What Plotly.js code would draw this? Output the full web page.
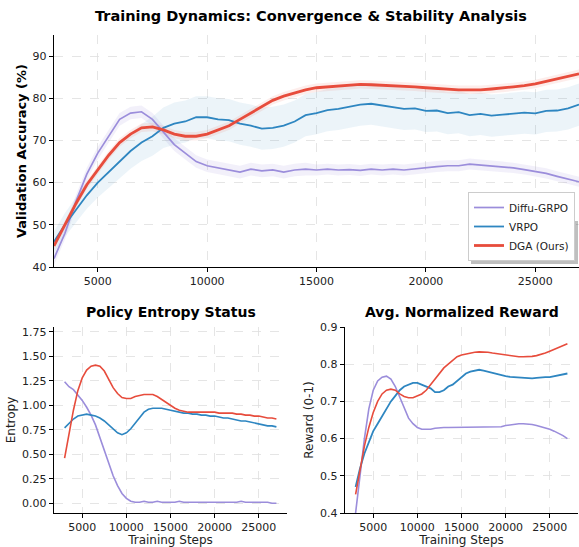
<!DOCTYPE html>
<html>
<head>
<meta charset="utf-8">
<script src="https://cdn.plot.ly/plotly-3.0.1.min.js"></script>
<style>html,body{margin:0;padding:0;background:#fff}#chart{width:579px;height:547px}</style>
</head>
<body>
<div id="chart"></div>
<script>
// ---- data ----
const steps = [3000,3500,4000,4500,5000,5500,6000,6500,7000,7500,8000,8500,9000,9500,10000,10500,11000,11500,12000,12500,13000,13500,14000,14500,15000,15500,16000,16500,17000,17500,18000,18500,19000,19500,20000,20500,21000,21500,22000,22500,23000,23500,24000,24500,25000,25500,26000,26500,27000];
const seriesNames = ["Diffu-GRPO","VRPO","DGA (Ours)"];
const xTicks = [5000,10000,15000,20000,25000];

// Validation accuracy (%)
const accDiffu = [42,48,55.5,62,67,71,75,76.5,76.8,75,72,69,67,65,64,63.5,63,62.5,63.2,62.8,63,62.5,63,63.2,63,63.2,63,63.1,62.9,63.2,63,63.2,63,63.3,63.6,63.8,64,64,64.4,64.2,64,63.7,63.5,63.1,62.7,62.2,61.5,60.8,60.2];
const accVrpo  = [46,50,53.5,57,60,62.5,65,67.5,69.5,71,73,74,74.5,75.5,75.5,75,74.8,74,73.5,72.8,73,73.5,74.5,76,76.5,77.2,77.5,78,78.5,78.7,78.3,77.8,77.5,77.6,77,77.1,76.5,76.7,76,76.3,75.9,76.1,76.4,76.6,76.4,77,77.1,77.6,78.5];
const accDga   = [45,50,55,59.5,63,66.5,69.5,71.5,73,73.2,72.5,71.5,71,71,71.5,72.5,73.5,75,76.5,78,79.5,80.5,81.2,82,82.5,82.7,83,83.2,83.3,83.2,83.1,83,82.8,82.7,82.5,82.3,82.1,82,82,82,82.2,82.4,82.7,83,83.4,84,84.6,85.2,85.8];
// half-width of the shaded spread around each accuracy curve
const spreadDiffu = [1.5,1.5,1.5,1.5,1.5,1.5,1.5,1.5,1.5,1.5,1.5,1.5,1.5,1.5,1.5,1.5,1.5,1.5,1.5,1.5,1.5,1.5,1.5,1.5,1.3,1.3,1.3,1.3,1.3,1.3,1.3,1.3,1.3,1.3,1.3,1.3,1.3,1.3,1.3,1.3,1.3,1.3,1.2,1.2,1.2,1.2,1.2,1.2,1.2];
const spreadVrpo  = [2.5,2.8,3,3.2,3.5,3.7,4,4.2,4.4,4.6,4.8,5,5,5,5,5,5,5,5,5,5,5,5,5,5,5,5,5,5,5,5,5,5,5,5,5,5,5,5,5,5,5,5,5,5,5,5,5,5];
const spreadDga   = [1,1,1,1,1,1,1,1,1,1,1,1,1,1,1,1,1,1,1,1,1,1,1,1,1,1,1,1,1,1,1,1,1,1,1,1,1,1,1,1,1,1,1,1,1,1,1,1,1];

// Policy entropy
const entDiffu = [1.24,1.19,1.16,1.11,1.05,0.98,0.9,0.8,0.67,0.53,0.4,0.28,0.18,0.1,0.05,0.02,0.01,0.01,0.02,0.01,0.01,0.02,0.01,0.01,0.01,0.01,0.02,0.01,0.01,0.01,0.01,0.01,0.01,0.01,0.01,0.01,0.01,0.01,0.01,0.01,0.02,0.01,0.01,0.01,0.01,0.01,0.01,0.0,0.0];
const entVrpo  = [0.77,0.82,0.86,0.89,0.9,0.91,0.9,0.89,0.87,0.84,0.8,0.76,0.72,0.7,0.72,0.76,0.82,0.88,0.93,0.96,0.97,0.97,0.97,0.96,0.95,0.94,0.93,0.92,0.92,0.91,0.91,0.9,0.9,0.89,0.89,0.88,0.87,0.87,0.86,0.85,0.84,0.84,0.83,0.82,0.81,0.8,0.79,0.79,0.78];
const entDga   = [0.46,0.72,0.95,1.15,1.28,1.36,1.4,1.41,1.4,1.35,1.27,1.18,1.12,1.08,1.07,1.07,1.09,1.1,1.11,1.11,1.11,1.09,1.06,1.03,1.0,0.97,0.95,0.94,0.93,0.93,0.93,0.93,0.93,0.93,0.93,0.92,0.92,0.92,0.92,0.91,0.91,0.9,0.9,0.89,0.89,0.88,0.87,0.87,0.86];

// Avg. normalized reward
const rewDiffu = [0.4,0.5,0.6,0.68,0.73,0.755,0.765,0.768,0.76,0.74,0.71,0.68,0.655,0.64,0.63,0.625,0.625,0.625,0.628,0.63,0.63,0.63,0.63,0.63,0.63,0.63,0.63,0.63,0.63,0.63,0.63,0.63,0.63,0.632,0.635,0.637,0.638,0.64,0.64,0.64,0.638,0.635,0.632,0.628,0.625,0.62,0.615,0.608,0.6];
const rewVrpo  = [0.47,0.52,0.56,0.59,0.62,0.64,0.66,0.68,0.7,0.715,0.73,0.74,0.745,0.75,0.75,0.745,0.74,0.735,0.725,0.725,0.73,0.74,0.745,0.755,0.765,0.775,0.78,0.783,0.785,0.783,0.78,0.775,0.772,0.77,0.768,0.766,0.765,0.763,0.762,0.762,0.762,0.763,0.765,0.765,0.765,0.767,0.77,0.772,0.775];
const rewDga   = [0.45,0.52,0.58,0.63,0.67,0.7,0.72,0.73,0.733,0.73,0.72,0.713,0.71,0.71,0.715,0.72,0.73,0.745,0.76,0.775,0.79,0.8,0.81,0.82,0.825,0.828,0.83,0.832,0.833,0.833,0.832,0.83,0.828,0.827,0.825,0.823,0.82,0.82,0.82,0.82,0.821,0.823,0.826,0.83,0.835,0.84,0.845,0.85,0.855];

// ---- styling ----
const colors = ["#9b8ddb","#2e86c1","#e74c3c"];
const bandColors = ["rgba(155,141,219,0.13)","rgba(46,134,193,0.09)","rgba(231,76,60,0.10)"];
const FONT = "DejaVu Sans, sans-serif";
const W = 579, H = 547;
const px = v => v / W, py = v => (H - v) / H;

const traces = [];
const acc = [accDiffu, accVrpo, accDga];
const spr = [spreadDiffu, spreadVrpo, spreadDga];
for (let i = 0; i < 3; i++) {
  traces.push({x: steps, y: acc[i].map((v,k)=>v - spr[i][k]), mode:"lines", line:{width:0,color:bandColors[i]}, showlegend:false, hoverinfo:"skip", xaxis:"x", yaxis:"y"});
  traces.push({x: steps, y: acc[i].map((v,k)=>v + spr[i][k]), mode:"lines", line:{width:0,color:bandColors[i]}, fill:"tonexty", fillcolor:bandColors[i], showlegend:false, hoverinfo:"skip", xaxis:"x", yaxis:"y"});
}
const accWidths = [1.7, 1.8, 2.8];
for (let i = 0; i < 3; i++) {
  traces.push({x: steps, y: acc[i], name: seriesNames[i], mode:"lines", line:{color:colors[i], width: accWidths[i]}, xaxis:"x", yaxis:"y"});
}
const ent = [entDiffu, entVrpo, entDga];
const rew = [rewDiffu, rewVrpo, rewDga];
for (let i = 0; i < 3; i++) {
  traces.push({x: steps, y: ent[i], mode:"lines", line:{color:colors[i], width:1.6}, showlegend:false, xaxis:"x2", yaxis:"y2"});
}
for (let i = 0; i < 3; i++) {
  traces.push({x: steps, y: rew[i], mode:"lines", line:{color:colors[i], width:i===1?1.8:1.6}, showlegend:false, xaxis:"x3", yaxis:"y3"});
}

const axBase = {
  showline:true, linecolor:"#000", linewidth:1.2, mirror:false,
  ticks:"outside", ticklen:4, tickwidth:1, tickcolor:"#000",
  showgrid:true, gridcolor:"#dedede", griddash:"dash", gridwidth:0.8,
  zeroline:false, tickfont:{family:FONT, size:11, color:"#222"}, automargin:false
};

// legend box (pixels) for its drop shadow
const legL = 468, legR = 575, legT = 218, legB = 261;

const layout = {
  width: W, height: H,
  margin:{l:0,r:0,t:0,b:0},
  paper_bgcolor:"#fff", plot_bgcolor:"#fff",
  font:{family:FONT, color:"#000"},
  title:{text:"<b>Training Dynamics: Convergence & Stability Analysis</b>", x:px(311), xanchor:"center", y:py(16), yanchor:"middle", font:{family:FONT, size:14.5, color:"#000"}},
  xaxis: Object.assign({}, axBase, {domain:[px(54),1], anchor:"y", range:[3000,27000], tickvals:xTicks, tickformat:"d"}),
  yaxis: Object.assign({}, axBase, {domain:[py(267),py(35)], anchor:"x", range:[40,95], tickvals:[40,50,60,70,80,90],
    title:{text:"<b>Validation Accuracy (%)</b>", font:{family:FONT,size:13,color:"#000"}, standoff:3}}),
  xaxis2: Object.assign({}, axBase, {domain:[px(54),px(287)], anchor:"y2", range:[1800,28200], tickvals:xTicks, tickformat:"d",
    title:{text:"Training Steps", font:{family:FONT,size:12,color:"#222"}, standoff:1}}),
  yaxis2: Object.assign({}, axBase, {domain:[py(513),py(327)], anchor:"x2", range:[-0.1,1.8], tickvals:[0,0.25,0.5,0.75,1,1.25,1.5,1.75], tickformat:".2f",
    title:{text:"Entropy", font:{family:FONT,size:12,color:"#222"}, standoff:3}}),
  xaxis3: Object.assign({}, axBase, {domain:[px(345),px(578)], anchor:"y3", range:[1800,28200], tickvals:xTicks, tickformat:"d",
    title:{text:"Training Steps", font:{family:FONT,size:12,color:"#222"}, standoff:1}}),
  yaxis3: Object.assign({}, axBase, {domain:[py(513),py(327)], anchor:"x3", range:[0.4,0.9], tickvals:[0.4,0.5,0.6,0.7,0.8,0.9], tickformat:".1f",
    title:{text:"Reward (0-1)", font:{family:FONT,size:12,color:"#222"}, standoff:3}}),
  annotations:[
    {text:"<b>Policy Entropy Status</b>", xref:"paper", yref:"paper", x:px(170.5), y:py(312), xanchor:"center", yanchor:"middle", showarrow:false, font:{family:FONT,size:14,color:"#000"}},
    {text:"<b>Avg. Normalized Reward</b>", xref:"paper", yref:"paper", x:px(461.5), y:py(312), xanchor:"center", yanchor:"middle", showarrow:false, font:{family:FONT,size:14,color:"#000"}}
  ],
  shapes:[
    {type:"rect", xref:"paper", yref:"paper", layer:"above", x0:px(legL+3), x1:px(legR+3), y0:py(legB+3), y1:py(legT+3), fillcolor:"rgba(0,0,0,0.25)", line:{width:0}}
  ],
  legend:{x:px(legR), xanchor:"right", y:py(legB), yanchor:"bottom", bgcolor:"#ffffff", bordercolor:"#cccccc", borderwidth:1, font:{family:FONT,size:10.5,color:"#222"}, itemwidth:30, traceorder:"normal"},
  showlegend:true
};

Plotly.newPlot("chart", traces, layout, {staticPlot:true, displayModeBar:false});
</script>
</body>
</html>
